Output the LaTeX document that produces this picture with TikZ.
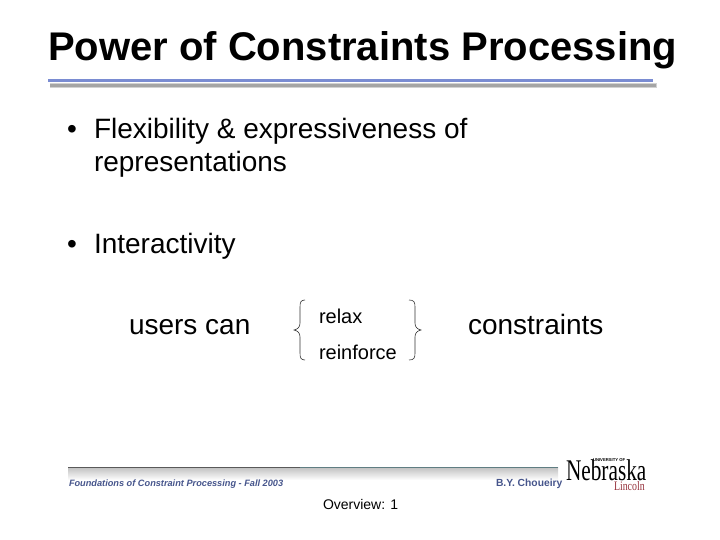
\documentclass[tikz,border=0pt]{standalone}
\usepackage{fontspec}
\setmainfont{Liberation Sans}
\newfontfamily\serifnb{Liberation Serif}
\definecolor{rulemain}{RGB}{122,140,210}
\definecolor{ruleshadow}{RGB}{165,165,165}
\definecolor{footblue}{RGB}{70,85,140}
\definecolor{footline}{RGB}{95,125,130}
\definecolor{lincoln}{RGB}{150,50,60}
\tikzset{
  every node/.style={inner sep=0pt,outer sep=0pt,text=black},
  titletext/.style={anchor=base west,font=\fontsize{40}{44}\selectfont\bfseries},
  body/.style={anchor=base west,font=\fontsize{28}{32}\selectfont},
  bulletmark/.style={anchor=base west,font=\fontsize{28}{32}\selectfont},
  small/.style={anchor=base west,font=\fontsize{20}{24}\selectfont},
  foot/.style={anchor=base west,text=footblue,font=\fontsize{9.2}{12}\selectfont\bfseries\itshape},
  curly/.style={draw=black!80,line width=0.6pt},
}
\begin{document}
\begin{tikzpicture}[x=1pt,y=-1pt]
\useasboundingbox (0,0) rectangle (720,540);
\fill[white] (0,0) rectangle (720,540);
\node[titletext] (title) at (48,61) {Power of Constraints Processing};
% title rule with its shadow
\fill[ruleshadow!50] (50,83) rectangle (657,88.5);
\fill[ruleshadow] (50,84) rectangle (656,87.5);
\fill[rulemain] (48,79.5) rectangle (653,82);
% bullets
\node[bulletmark] (b1) at (67,139) {•};
\node[body] (t1) at (94,139) {Flexibility \& expressiveness of};
\node[body] (t1b) at (94,172) {representations};
\node[bulletmark] (b2) at (67,253) {•};
\node[body] (t2) at (94,253) {Interactivity};
\node[body] (users) at (129,334) {users can};
\node[small] (relax) at (319,323) {relax};
\node[small] (reinf) at (319,359) {reinforce};
\node[body] (cons) at (468,334) {constraints};
% braces
\draw[curly] (305,300) .. controls (301,300) and (300,302) .. (300,307)
  -- (300,323) .. controls (300,327) and (298,329) .. (294,330)
  .. controls (298,331) and (300,333) .. (300,337) -- (300,353)
  .. controls (300,358) and (301,360) .. (305,360);
\draw[curly] (409,300) .. controls (414,300) and (415,302) .. (415,307)
  -- (415,323) .. controls (415,327) and (417,329) .. (421,330)
  .. controls (417,331) and (415,333) .. (415,337) -- (415,353)
  .. controls (415,358) and (414,360) .. (409,360);
% footer
\shade[top color=black!25,bottom color=white] (68,467) rectangle (558,480);
\draw[black!65,line width=0.9pt] (68,467) -- (300,467);
\draw[footline,line width=0.9pt] (300,467) -- (558,467);
\node[foot] (ft) at (69,486) {Foundations of Constraint Processing - Fall 2003};
\node[foot,font=\fontsize{10.3}{12}\selectfont\bfseries] (au) at (496,486) {B.Y. Choueiry};
\node[anchor=base west,font=\serifnb\fontsize{30}{30}\selectfont] (neb) at (566,480) {\scalebox{0.71}[1]{Nebraska}};
\node[anchor=base west,font=\fontsize{4.2}{5}\selectfont\bfseries] (uni) at (593,461) {UNIVERSITY OF};
\node[anchor=base west,text=lincoln,font=\serifnb\fontsize{13}{14}\selectfont] (linc) at (614,490) {\scalebox{0.76}[1]{Lincoln}};
\node[anchor=base west,font=\fontsize{14}{16}\selectfont] (ov) at (323,509) {Overview: 1};
\end{tikzpicture}
\end{document}
